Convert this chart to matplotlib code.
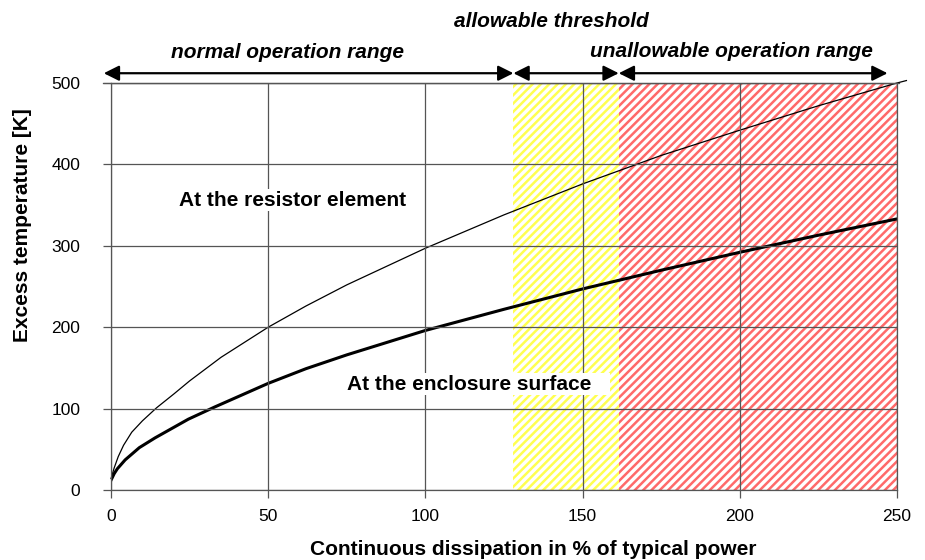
import matplotlib.pyplot as plt
import matplotlib as mpl

# values
x_element = [0, 1, 2.3, 4, 6.6, 10, 14.5, 20, 25, 35, 50, 62, 75, 100,
             125, 150, 175, 200, 225, 250, 253]
t_element = [14, 27, 41, 55, 71, 85, 101, 118, 134, 163, 200, 226, 252, 297,
             338, 376, 411, 442, 472, 500, 503]
x_surface = [0, 1, 2, 4.5, 9, 14, 24.6, 33, 50, 62, 75, 100,
             125, 150, 175, 200, 225, 250]
t_surface = [12, 20, 26, 37, 52, 64, 87, 102, 131, 149, 166, 196,
             222, 247, 270, 292, 313, 333]

x_ticks = [0, 50, 100, 150, 200, 250]
y_ticks = [0, 100, 200, 300, 400, 500]

lim_allow = 128
lim_unallow = 161.5
x_max = 250

labels_top = ['normal operation range', 'allowable threshold', 'unallowable operation range']
label_element = 'At the resistor element'
label_surface = 'At the enclosure surface'


def main():
    mpl.rcParams['font.family'] = ['Liberation Sans', 'DejaVu Sans']
    mpl.rcParams['hatch.linewidth'] = 1.8
    fig = plt.figure(figsize=(9.25, 5.6), dpi=100)
    ax = fig.add_axes([0.12, 0.125, 0.8497, 0.7268])

    ax.set_xlim(0, x_max)
    ax.set_ylim(0, 500)

    # hatched ranges
    ax.fill_between([lim_allow, lim_unallow], 0, 500, facecolor='white',
                    edgecolor='#ffff50', hatch='////', lw=0, zorder=0)
    ax.fill_between([lim_unallow, x_max], 0, 500, facecolor='white',
                    edgecolor='#ff6a6a', hatch='////', lw=0, zorder=0)

    ax.set_xticks(x_ticks)
    ax.set_yticks(y_ticks)
    # grid sits on top of the label boxes, like in the source
    ax.grid(True, color='#555555', lw=0.9, zorder=4)
    ax.set_axisbelow(False)
    for s in ax.spines.values():
        s.set_color('#555555')
        s.set_linewidth(0.9)
    ax.tick_params(direction='out', length=6, width=0.9, color='#555555',
                   labelsize=12.5)
    ax.tick_params(axis='y', pad=16)
    ax.tick_params(axis='x', pad=8)

    # curves: the thin one runs a little past the frame
    ln, = ax.plot(x_element, t_element, color='black', lw=0.9, zorder=2)
    ln.set_clip_on(False)
    ax.plot(x_surface, t_surface, color='black', lw=2.2, zorder=2)

    ax.text(21.5, 356, label_element + '   ', fontsize=15, fontweight='bold',
            va='center', ha='left', zorder=3,
            bbox=dict(facecolor='white', edgecolor='none', pad=1))
    ax.text(75, 130, label_surface + '   ', fontsize=15, fontweight='bold',
            va='center', ha='left', zorder=3,
            bbox=dict(facecolor='white', edgecolor='none', pad=1))

    # range arrows above the plot
    y_arr = 512
    spans = [(-2.3, lim_allow), (lim_allow, lim_unallow), (lim_unallow, 247)]
    for x0, x1 in spans:
        ax.annotate('', xy=(x1, y_arr), xytext=(x0, y_arr),
                    annotation_clip=False,
                    arrowprops=dict(arrowstyle='<|-|>', color='black', lw=1.6,
                                    mutation_scale=23, shrinkA=0, shrinkB=0))
    ax.plot([-2.5, x_max + 0.5], [500, 500], color='#555555', lw=0.9, clip_on=False)

    ax.text(56, 538, labels_top[0], fontsize=15, fontweight='bold', style='italic',
            ha='center', va='center')
    ax.text(140, 576, labels_top[1], fontsize=15, fontweight='bold', style='italic',
            ha='center', va='center')
    ax.text(197.5, 539, labels_top[2], fontsize=15, fontweight='bold', style='italic',
            ha='center', va='center')

    ax.set_xlabel('Continuous dissipation in % of typical power', fontsize=15,
                  fontweight='bold')
    ax.set_ylabel('Excess temperature [K]', fontsize=15, fontweight='bold')
    ax.xaxis.set_label_coords(0.537, -0.123)
    ax.yaxis.set_label_coords(-0.1005, 0.65)

    fig.savefig('out.png', dpi=100)


main()
